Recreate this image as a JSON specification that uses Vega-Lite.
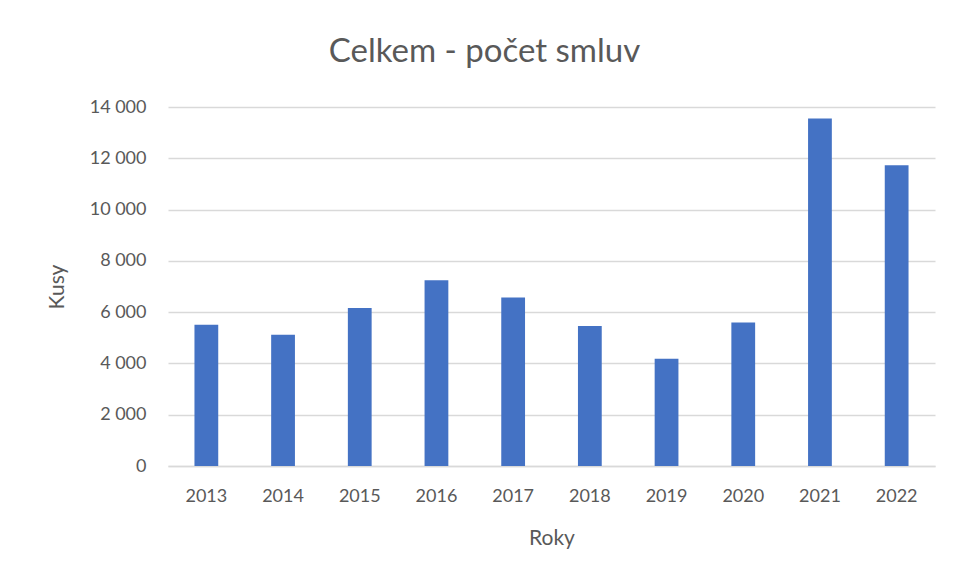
{
  "$schema": "https://vega.github.io/schema/vega-lite/v6.json",
  "width": 767,
  "height": 359,
  "autosize": {"type": "none"},
  "padding": {"left": 168, "top": 107, "right": 20, "bottom": 112},
  "background": "white",
  "title": {
    "text": "Celkem - počet smluv",
    "font": "Lato",
    "fontSize": 33,
    "fontWeight": "normal",
    "color": "#595959",
    "anchor": "middle",
    "dx": -67,
    "offset": 29
  },
  "data": {
    "values": [
      {"rok": "2013", "kusy": 5510},
      {"rok": "2014", "kusy": 5120},
      {"rok": "2015", "kusy": 6160},
      {"rok": "2016", "kusy": 7240},
      {"rok": "2017", "kusy": 6570},
      {"rok": "2018", "kusy": 5460},
      {"rok": "2019", "kusy": 4180},
      {"rok": "2020", "kusy": 5600},
      {"rok": "2021", "kusy": 13550},
      {"rok": "2022", "kusy": 11730}
    ]
  },
  "mark": {"type": "bar", "color": "#4472C4"},
  "encoding": {
    "x": {
      "field": "rok",
      "type": "ordinal",
      "title": "Roky",
      "scale": {"paddingInner": 0.69, "paddingOuter": 0.345},
      "axis": {
        "labelAngle": 0,
        "labelFont": "Lato",
        "labelFontSize": 18,
        "labelColor": "#595959",
        "labelPadding": 21,
        "ticks": false,
        "domainColor": "#d9d9d9",
        "domainWidth": 1.5,
        "titleFont": "Lato",
        "titleFontSize": 21,
        "titleFontWeight": "normal",
        "titleColor": "#595959",
        "titlePadding": 22
      }
    },
    "y": {
      "field": "kusy",
      "type": "quantitative",
      "title": "Kusy",
      "scale": {"domain": [0, 14000]},
      "axis": {
        "values": [0, 2000, 4000, 6000, 8000, 10000, 12000, 14000],
        "labelExpr": "replace(format(datum.value, ',d'), ',', ' ')",
        "labelFont": "Lato",
        "labelFontSize": 18,
        "labelColor": "#595959",
        "labelPadding": 22,
        "ticks": false,
        "domain": false,
        "grid": true,
        "gridColor": "#d9d9d9",
        "gridWidth": 1.5,
        "titleFont": "Lato",
        "titleFontSize": 21,
        "titleFontWeight": "normal",
        "titleColor": "#595959",
        "titlePadding": 22
      }
    }
  },
  "config": {"view": {"stroke": null}}
}
